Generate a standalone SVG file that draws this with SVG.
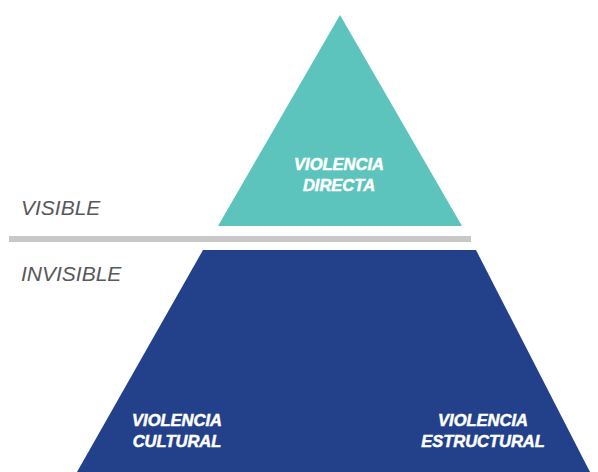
<svg xmlns="http://www.w3.org/2000/svg" width="598" height="472" viewBox="0 0 598 472">
<style>
.lbl{font-family:"Liberation Sans",Arial,sans-serif;font-style:italic;font-weight:bold;font-size:16.5px;fill:#ffffff;stroke:#ffffff;stroke-width:0.5;text-anchor:middle}
.side{font-family:"Liberation Sans",Arial,sans-serif;font-style:italic;font-size:21px;fill:#58585a}
</style>
<rect width="598" height="472" fill="#ffffff"/>
<g id="directa">
<polygon points="340,15 218,226 462,226" fill="#5cc4bc"/>
<text class="lbl" x="339" y="170">VIOLENCIA</text>
<text class="lbl" x="339" y="191">DIRECTA</text>
</g>
<g id="divider">
<rect x="9" y="236" width="462" height="6" fill="#c8c8c8"/>
</g>
<g id="base">
<polygon points="203,250 476,250 590,472 77,472" fill="#23418a"/>
<text class="lbl" x="177" y="426">VIOLENCIA</text>
<text class="lbl" x="177" y="447">CULTURAL</text>
<text class="lbl" x="483" y="426">VIOLENCIA</text>
<text class="lbl" x="483" y="447">ESTRUCTURAL</text>
</g>
<g id="labels">
<text class="side" x="21" y="215">VISIBLE</text>
<text class="side" x="21" y="281">INVISIBLE</text>
</g>
<g id="connectors"/>
</svg>
